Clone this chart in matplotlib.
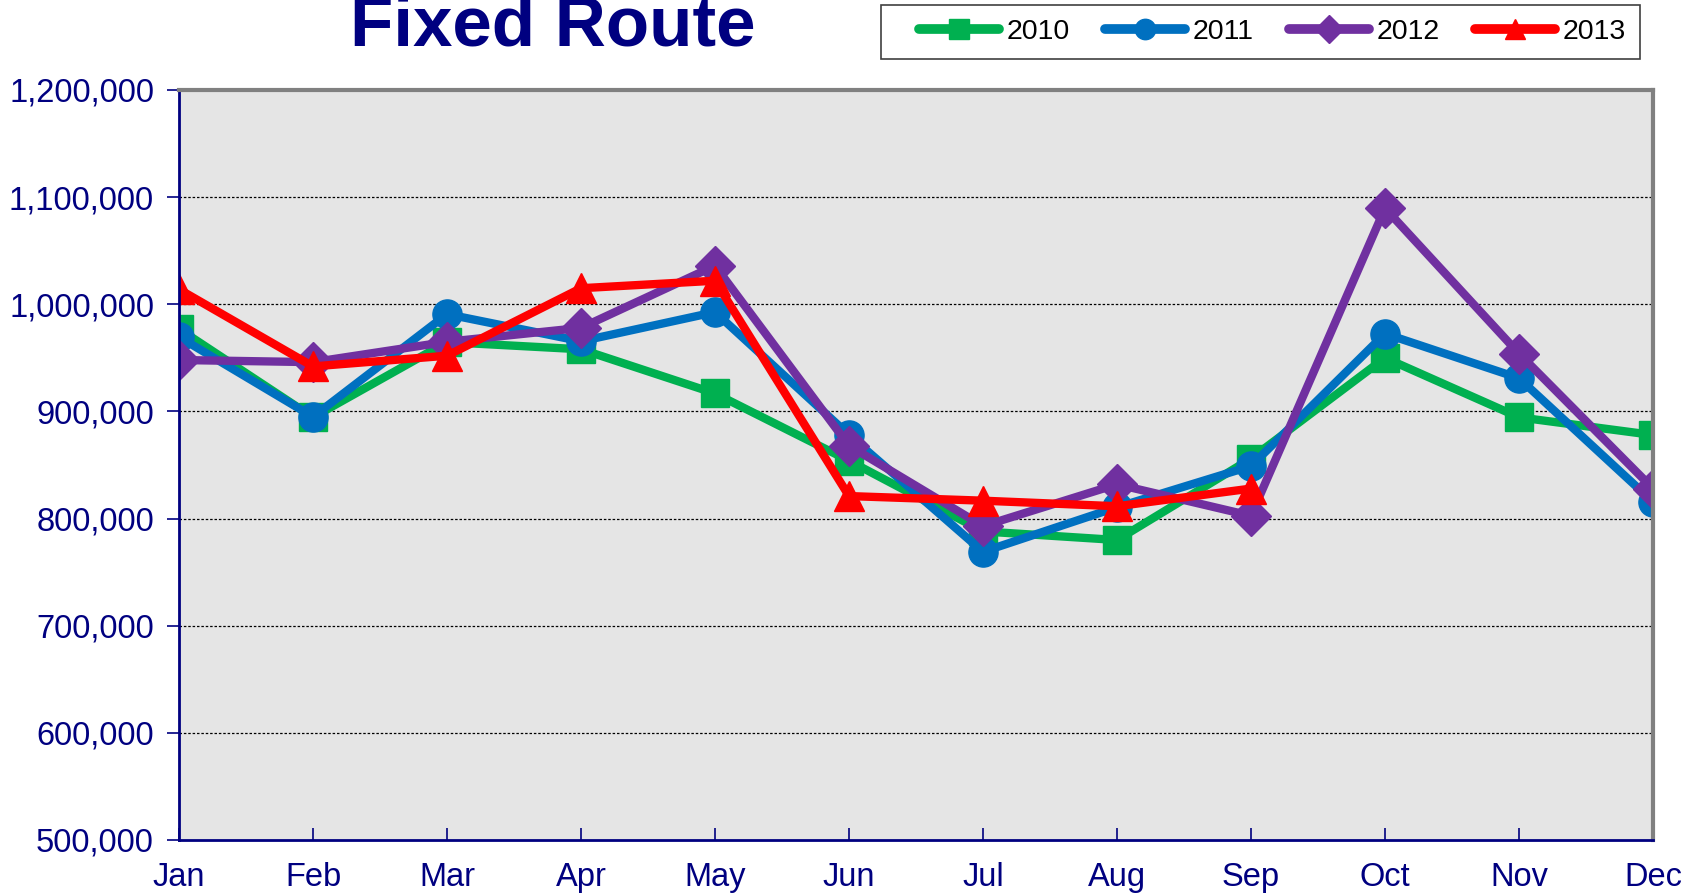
import matplotlib
matplotlib.use("Agg")
import matplotlib.pyplot as plt
from matplotlib.ticker import FuncFormatter, MultipleLocator
from matplotlib.patches import Rectangle

months = ["Jan", "Feb", "Mar", "Apr", "May", "Jun", "Jul", "Aug", "Sep", "Oct", "Nov", "Dec"]
y2010 = [977000, 894500, 964700, 958000, 916800, 854000, 788000, 780000, 856000, 950000, 894500, 878000]
y2011 = [969500, 895000, 990800, 965500, 992700, 878000, 769000, 810600, 849000, 972600, 931000, 815600]
y2012 = [948000, 946000, 965000, 978000, 1036000, 868000, 793000, 832000, 802600, 1089700, 954000, 828000]
y2013 = [1014000, 942000, 952000, 1015000, 1022000, 821000, 816700, 811500, 828000]

series = [
    ("2010", y2010, "#00B050", "s", 20),
    ("2011", y2011, "#0070C0", "o", 21),
    ("2012", y2012, "#7030A0", "D", 20),
    ("2013", y2013, "#FF0000", "^", 21),
]

navy = "#000080"
plt.rcParams['font.family'] = ['Liberation Sans', 'DejaVu Sans']

fig = plt.figure(figsize=(17, 8.96), dpi=100)
ax = fig.add_axes([179/1700, 1-840/896, (1653-179)/1700, (840-90)/896])
ax.set_facecolor("#e5e5e5")

x = list(range(len(months)))
for name, vals, col, mk, ms in series:
    ax.plot(x[:len(vals)], vals, color=col, lw=6, marker=mk, ms=ms,
            label=name, solid_capstyle='round', solid_joinstyle='miter', zorder=3)

ax.set_xlim(0, 11)
ax.set_ylim(500000, 1200000)
ax.yaxis.set_major_locator(MultipleLocator(100000))
ax.yaxis.set_major_formatter(FuncFormatter(lambda v, p: f"{int(v):,}"))
ax.set_xticks(x)
ax.set_xticklabels(months)
ax.tick_params(axis='x', direction='in', length=9, width=1.2, color=navy,
               labelcolor=navy, labelsize=23.5, pad=16)
ax.tick_params(axis='y', direction='out', length=9, width=1.2, color=navy,
               labelcolor=navy, labelsize=23.5, pad=9)

for gv in range(600000, 1200000, 100000):
    ax.axhline(gv, color="black", lw=0.9, ls=(0, (2, 1.5)), zorder=1)

ax.spines['left'].set_color(navy)
ax.spines['left'].set_linewidth(2)
ax.spines['bottom'].set_color(navy)
ax.spines['bottom'].set_linewidth(2)
ax.spines['top'].set_color("#808080")
ax.spines['top'].set_linewidth(3)
ax.spines['right'].set_color("#808080")
ax.spines['right'].set_linewidth(3)
for sp in ax.spines.values():
    sp.set_zorder(4)

fig.text(553/1700, 1-45/896, "Fixed Route", ha='center', va='baseline',
         fontsize=51, fontweight='bold', color=navy)

# legend frame
fig.patches.append(Rectangle((881/1700, 1-59/896), (1640-881)/1700, 54/896,
                             transform=fig.transFigure, facecolor="white",
                             edgecolor="#404040", lw=1.2, zorder=0))
leg = fig.legend(loc='center left', bbox_to_anchor=(919/1700, 1-32/896),
                 bbox_transform=fig.transFigure, ncol=4, fontsize=20.5,
                 handlelength=2.8, handletextpad=0.27, columnspacing=1.25,
                 borderpad=0, borderaxespad=0, frameon=False,
                 markerscale=0.7)
for line in leg.get_lines():
    line.set_linewidth(7)

fig.savefig("out.png", dpi=100)
